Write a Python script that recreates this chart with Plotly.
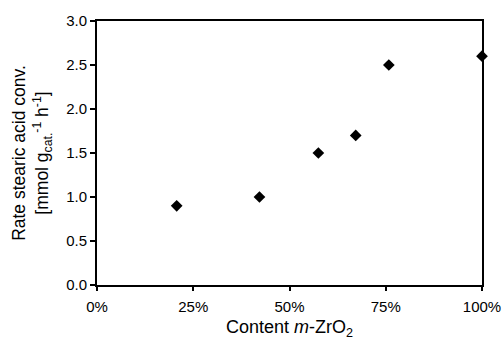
import plotly.graph_objects as go

content = [0.207, 0.422, 0.575, 0.672, 0.758, 1.0]
rate = [0.9, 1.0, 1.5, 1.7, 2.5, 2.6]
xticks = [0, 0.25, 0.5, 0.75, 1.0]
xticklabels = ["0%", "25%", "50%", "75%", "100%"]
yticks = [0.0, 0.5, 1.0, 1.5, 2.0, 2.5, 3.0]

fig = go.Figure()
fig.add_trace(go.Scatter(
    x=content, y=rate, mode="markers",
    marker=dict(symbol="diamond", size=9, color="black"),
    cliponaxis=False, showlegend=False))

font = dict(family="Liberation Sans, Arial, sans-serif", color="black")
fig.update_layout(
    width=504, height=340,
    margin=dict(l=97, r=22, t=21, b=55),
    paper_bgcolor="white", plot_bgcolor="white",
    font=dict(**font, size=15),
)
fig.update_xaxes(
    range=[0, 1], tickvals=xticks, ticktext=xticklabels,
    showgrid=False, zeroline=False, automargin=False,
    showline=True, linecolor="black", linewidth=2, mirror=True,
    ticks="outside", ticklen=4, tickwidth=1.5, tickcolor="black",
    tickfont=dict(size=15), ticklabelstandoff=3,
    title=dict(text="Content <i>m</i>-ZrO<sub>2</sub>", font=dict(size=18), standoff=14),
)
fig.update_yaxes(
    range=[0, 3.0], tickvals=yticks, tickformat=".1f",
    showgrid=False, zeroline=False, automargin=False,
    showline=True, linecolor="black", linewidth=2, mirror=True,
    ticks="outside", ticklen=5, tickwidth=1.5, tickcolor="black",
    tickfont=dict(size=15),
    title=dict(text="Rate stearic acid conv.<br>[mmol g<sub>cat.</sub><sup>-1</sup> h<sup>-1</sup>]",
               font=dict(size=17.5), standoff=13),
)
fig.write_html("out.html")
